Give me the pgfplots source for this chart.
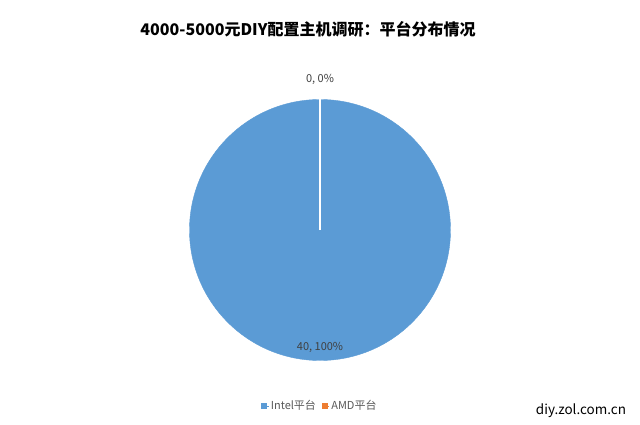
\documentclass[border=0pt]{standalone}
\usepackage{pgfplots}
\pgfplotsset{compat=1.18}
\usepackage{fontspec}
\setmainfont{Noto Sans CJK SC}
\definecolor{pieblue}{HTML}{5B9BD5}
\definecolor{pieorange}{HTML}{ED7D31}
\definecolor{lbl}{HTML}{404040}
\definecolor{lgd}{HTML}{595959}
% data: Intel 40, AMD 0  (100% / 0%)
\begin{document}
\begin{tikzpicture}
\begin{axis}[
  width=640pt, height=424pt, scale only axis,
  xmin=0, xmax=640, ymin=0, ymax=424,
  hide axis, clip=false, clip marker paths=true,
  legend columns=2,
  legend style={at={(axis cs:320,18)}, anchor=center, draw=none, fill=none,
    font=\fontsize{11}{12}\selectfont, text=lgd,
    /tikz/every even column/.append style={column sep=4pt},
    inner sep=1pt},
  legend cell align=left,
  legend image code/.code={\fill[#1] (0pt,-2.5pt) rectangle (5pt,2.5pt);\path (0pt,0pt) -- (7pt,0pt);},
]
\path[fill=white] (axis cs:0,0) rectangle (axis cs:640,424);
% Intel slice (100%): full disc centred on (320,194)
\addplot[pieblue, only marks, mark=*, mark size=130.5pt, mark options={fill=pieblue, draw=pieblue}, forget plot]
  coordinates {(320,194)};
% AMD slice (0%): only its white border at 0 degrees remains
\addplot[white, line width=2pt, forget plot] coordinates {(320,194) (320,326)};
\addlegendimage{pieblue}
\addlegendentry{Intel平台}
\addlegendimage{pieorange}
\addlegendentry{AMD平台}
\node[font=\fontsize{16}{18}\selectfont\bfseries, text=black] at (axis cs:308,395) {4000-5000元DIY配置主机调研：平台分布情况};
\node[font=\fontsize{11}{12}\selectfont, text=lbl] at (axis cs:320,345) {0, 0\%};
\node[font=\fontsize{11}{12}\selectfont, text=lbl] at (axis cs:320,77) {40, 100\%};
\node[font=\fontsize{13.5}{15}\selectfont, text=black] at (axis cs:581,13) {diy.zol.com.cn};
\end{axis}
\end{tikzpicture}
\end{document}
